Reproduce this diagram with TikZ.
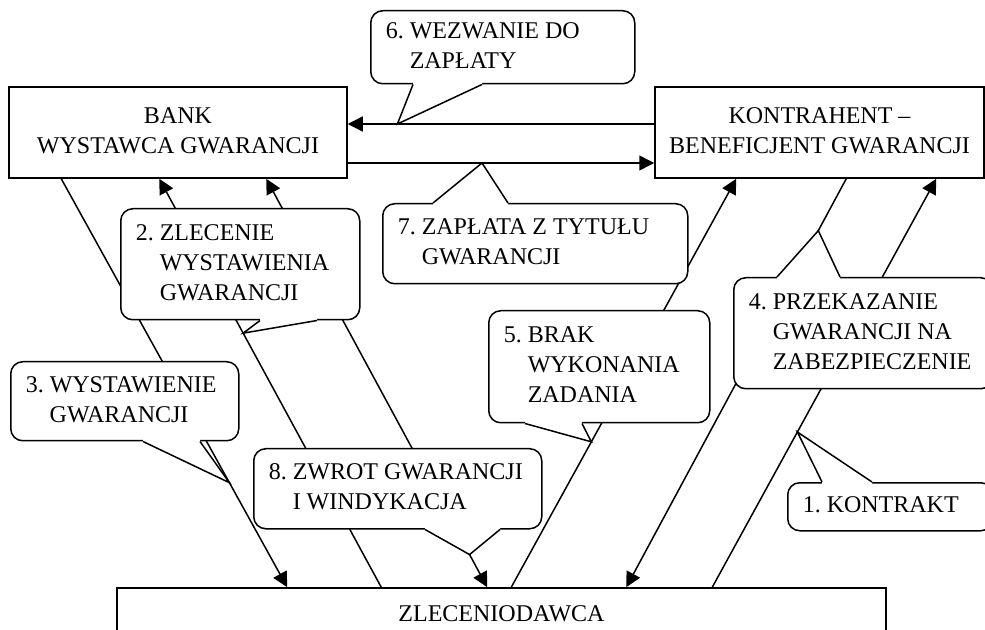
\documentclass[tikz,border=0pt]{standalone}
\usepackage{fontspec}
\setmainfont{Liberation Serif}
\usetikzlibrary{arrows.meta,calc}

\tikzset{
  box/.style={draw, line width=0.75pt, inner sep=0pt},
  callout/.style={draw, fill=white, line width=0.75pt, rounded corners=6pt,
    inner xsep=7.5pt, inner ysep=0pt, anchor=north west},
  link/.style={line width=0.75pt, -{Triangle[length=7.5pt,width=7.5pt]}},
  both/.style={line width=0.75pt,
    {Triangle[length=7.5pt,width=7.5pt]}-{Triangle[length=7.5pt,width=7.5pt]}},
  tail/.style={line width=0.75pt, line join=miter}
}
% text of a callout: number, then the lines hung after it
\newcommand{\ctext}[2]{\makebox[#1][l]{\begin{tabular}{@{}l@{\ }l@{}}#2\end{tabular}}}
% pointer of a callout: node, corner, two offsets on the edge, tip, inward shift
\newcommand{\pointer}[6]{%
  \fill[white] ($(#1.#2)+(#3,0)$) -- (#5) -- ($(#1.#2)+(#4,0)$) -- ++(0,#6)
    -- ($(#1.#2)+(#3,#6)$) -- cycle;
  \draw[tail] ($(#1.#2)+(#3,0)$) -- (#5) -- ($(#1.#2)+(#4,0)$);
}

\begin{document}
\begin{tikzpicture}[x=0.5pt, y=-0.5pt, font=\fontsize{12}{15}\selectfont]
  \useasboundingbox (0,0) rectangle (985,630);

  % the three parties
  \node[box, minimum width=169pt, minimum height=45.5pt] (bank) at (178,132.5)
    {\raisebox{3pt}{\begin{tabular}{@{}c@{}}BANK\\WYSTAWCA GWARANCJI\end{tabular}}};
  \node[box, minimum width=164.5pt, minimum height=45.5pt] (kontrahent) at (819.5,132.5)
    {\raisebox{3pt}{\begin{tabular}{@{}c@{}}KONTRAHENT --\\BENEFICJENT GWARANCJI\end{tabular}}};
  \node[box, minimum width=384.5pt, minimum height=26pt] (zlecen) at (501.5,614)
    {ZLECENIODAWCA};

  % flows
  \draw[link] ($(kontrahent.west)+(0,-8.5)$) -- ($(bank.east)+(0,-8.5)$) coordinate[pos=0.838] (t6);
  \draw[link] ($(bank.east)+(0,30.5)$) -- ($(kontrahent.west)+(0,30.5)$) coordinate[pos=0.438] (t7);
  \draw[link] ($(bank.south west)+(53,0)$) -- ($(zlecen.north west)+(171,0)$) coordinate[pos=0.744] (t3);
  \draw[link] ($(zlecen.north west)+(265,0)$) -- ($(bank.south west)+(151,0)$) coordinate[pos=0.622] (t2);
  \draw[both] ($(bank.south west)+(258,0)$) -- ($(zlecen.north west)+(371,0)$) coordinate[pos=0.92] (t8);
  \draw[link] ($(zlecen.north west)+(395,0)$) -- ($(kontrahent.south west)+(82,0)$) coordinate[pos=0.356] (t5);
  \draw[link] ($(kontrahent.south west)+(192,0)$) -- ($(zlecen.north west)+(510,0)$) coordinate[pos=0.127] (t4);
  \draw[link] ($(zlecen.north west)+(596,0)$) -- ($(kontrahent.south west)+(282,0)$) coordinate[pos=0.38] (t1);

  % callouts
  \node[callout, minimum width=132pt, minimum height=36.5pt] (c6) at (370,10)
    {\ctext{117pt}{6. & WEZWANIE DO\\ & ZAPŁATY}};
  \node[callout, minimum width=152.5pt, minimum height=40pt] (c7) at (382,203)
    {\ctext{137.5pt}{7. & ZAPŁATA Z TYTUŁU\\ & GWARANCJI}};
  \node[callout, minimum width=119.5pt, minimum height=55.5pt] (c2) at (120,208)
    {\ctext{104.5pt}{2. & ZLECENIE\\ & WYSTAWIENIA\\ & GWARANCJI}};
  \node[callout, minimum width=114pt, minimum height=39.5pt] (c3) at (10,361)
    {\ctext{99pt}{3. & WYSTAWIENIE\\ & GWARANCJI}};
  \node[callout, minimum width=144pt, minimum height=40pt] (c8) at (253,448)
    {\ctext{129pt}{8. & ZWROT GWARANCJI\\ & I WINDYKACJA}};
  \node[callout, minimum width=110.5pt, minimum height=56pt] (c5) at (488,310)
    {\ctext{95.5pt}{5. & BRAK\\ & WYKONANIA\\ & ZADANIA}};
  \node[callout, minimum width=129.5pt, minimum height=55.5pt] (c4) at (733,277)
    {\ctext{114.5pt}{4. & PRZEKAZANIE\\ & GWARANCJI NA\\ & ZABEZPIECZENIE}};
  \node[callout, minimum width=102.5pt, minimum height=24pt] (c1) at (787,482)
    {\ctext{87.5pt}{1. & KONTRAKT}};

  \pointer{c6}{south west}{43}{112}{t6}{-3}
  \pointer{c7}{north west}{51}{126}{t7}{3}
  \pointer{c2}{south west}{140}{197}{t2}{-3}
  \pointer{c3}{south west}{133}{190}{t3}{-3}
  \pointer{c8}{south west}{172}{247}{t8}{-3}
  \pointer{c5}{south west}{37}{94}{t5}{-3}
  \pointer{c4}{north west}{44}{107}{t4}{3}
  \pointer{c1}{north west}{35}{85}{t1}{3}
\end{tikzpicture}
\end{document}
